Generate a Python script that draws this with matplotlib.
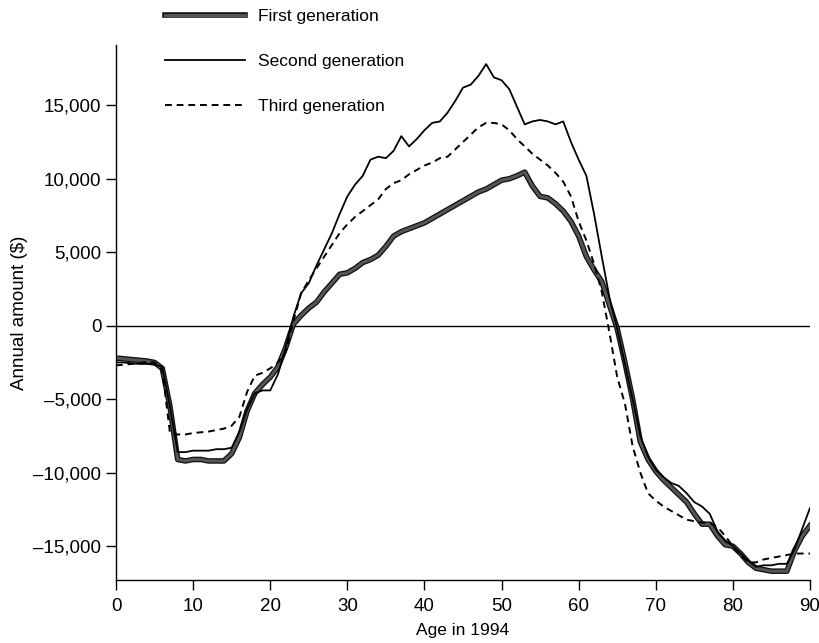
import numpy as np
import matplotlib
matplotlib.use("Agg")
import matplotlib.pyplot as plt
import matplotlib.patheffects as pe
from matplotlib.ticker import FuncFormatter

plt.rcParams['font.family'] = ['Liberation Sans', 'DejaVu Sans']
narrow = ['Liberation Sans Narrow', 'Liberation Sans', 'DejaVu Sans']

# age 0..90
ages = np.arange(0, 91)

first_gen = [
    -2200, -2250, -2300, -2350, -2400, -2500, -2900, -5500, -9100, -9200,
    -9100, -9100, -9200, -9200, -9200, -8700, -7600, -5800, -4600, -4000,
    -3500, -2800, -1500, 100, 700, 1200, 1600, 2300, 2900, 3500,
    3600, 3900, 4300, 4500, 4800, 5400, 6100, 6400, 6600, 6800,
    7000, 7300, 7600, 7900, 8200, 8500, 8800, 9100, 9300, 9600,
    9900, 10000, 10200, 10450, 9500, 8800, 8700, 8300, 7800, 7100,
    6100, 4700, 3800, 3000, 1400, -200, -2500, -5000, -7900, -9100,
    -9900, -10500, -11000, -11500, -12000, -12800, -13500, -13500, -14300, -14900,
    -15000, -15500, -16100, -16500, -16600, -16700, -16700, -16700, -15300, -14300,
    -13600]

second_gen = [
    -2500, -2500, -2550, -2600, -2600, -2650, -2800, -5500, -8600, -8600,
    -8500, -8500, -8500, -8400, -8400, -8300, -7200, -5700, -4600, -4400,
    -4400, -3300, -1500, 600, 2200, 2900, 4100, 5200, 6300, 7600,
    8800, 9600, 10200, 11300, 11500, 11400, 11900, 12900, 12200, 12700,
    13300, 13800, 13900, 14500, 15300, 16200, 16400, 17000, 17800, 16900,
    16700, 16100, 14900, 13700, 13900, 14000, 13900, 13700, 13900, 12500,
    11300, 10200, 7600, 4700, 1900, -200, -2600, -5000, -7500, -8900,
    -9800, -10300, -10700, -10900, -11400, -12000, -12300, -12800, -14000, -14600,
    -15000, -15500, -16000, -16400, -16300, -16300, -16200, -16200, -15200, -13800,
    -12400]

third_gen = [
    -2700, -2650, -2600, -2550, -2450, -2500, -3000, -7300, -7400, -7400,
    -7300, -7250, -7200, -7100, -7000, -6800, -6200, -4500, -3400, -3200,
    -2900, -2500, -1800, 300, 2200, 3100, 3900, 4700, 5500, 6300,
    6900, 7400, 7800, 8200, 8600, 9300, 9700, 9900, 10300, 10600,
    10900, 11100, 11400, 11500, 12000, 12500, 13000, 13500, 13800, 13800,
    13700, 13300, 12700, 12200, 11700, 11300, 10900, 10400, 9800, 8800,
    7100, 5800, 4200, 2300, -500, -3500, -5300, -8200, -10000, -11400,
    -11900, -12300, -12600, -12900, -13200, -13300, -13400, -13400, -13700, -14300,
    -15000, -15600, -16100, -16100, -15900, -15800, -15700, -15600, -15500, -15500,
    -15500]

yticks = [-15000, -10000, -5000, 0, 5000, 10000, 15000]
xticks = list(range(0, 91, 10))

fig = plt.figure(figsize=(8.19, 6.43), dpi=100)
ax = fig.add_axes([116/819, 1-580/643, (810-116)/819, (580-45)/643])

ax.axhline(0, color='black', lw=1.0)

l1, = ax.plot(ages, first_gen, color='#555555', lw=2.2, solid_joinstyle='round',
              path_effects=[pe.Stroke(linewidth=4.0, foreground='#111111'), pe.Normal()],
              label='First generation')
l2, = ax.plot(ages, second_gen, color='black', lw=1.3, label='Second generation')
l3, = ax.plot(ages, third_gen, color='black', lw=1.4, ls=(0, (3.5, 2.5)), label='Third generation')

ax.set_xlim(0, 90)
ax.set_ylim(-17300, 19100)
ax.set_xticks(xticks)
ax.set_yticks(yticks)
ax.yaxis.set_major_formatter(FuncFormatter(lambda v, p: f"{int(v):,}".replace('-', '\u2013')))

for s in ['top', 'right']:
    ax.spines[s].set_visible(False)
for s in ['left', 'bottom']:
    ax.spines[s].set_linewidth(1.0)
ax.tick_params(direction='out', length=7, width=1, labelsize=13.5)
ax.tick_params(axis='y', pad=3.5)
ax.tick_params(axis='x', pad=6)

ax.set_xlabel('Age in 1994', fontsize=12.5, labelpad=6, family=narrow)
ax.set_ylabel('Annual amount ($)', fontsize=13.5, labelpad=4, family=narrow)

fig.legend(handles=[l1, l2, l3], loc='upper left',
           bbox_to_anchor=(165/819, 1-9/643), bbox_transform=fig.transFigure,
           frameon=False, prop={'family': narrow, 'size': 12.5}, handlelength=4.6,
           handletextpad=0.75, labelspacing=1.72, borderpad=0, borderaxespad=0)

fig.savefig('out.png', dpi=100)
